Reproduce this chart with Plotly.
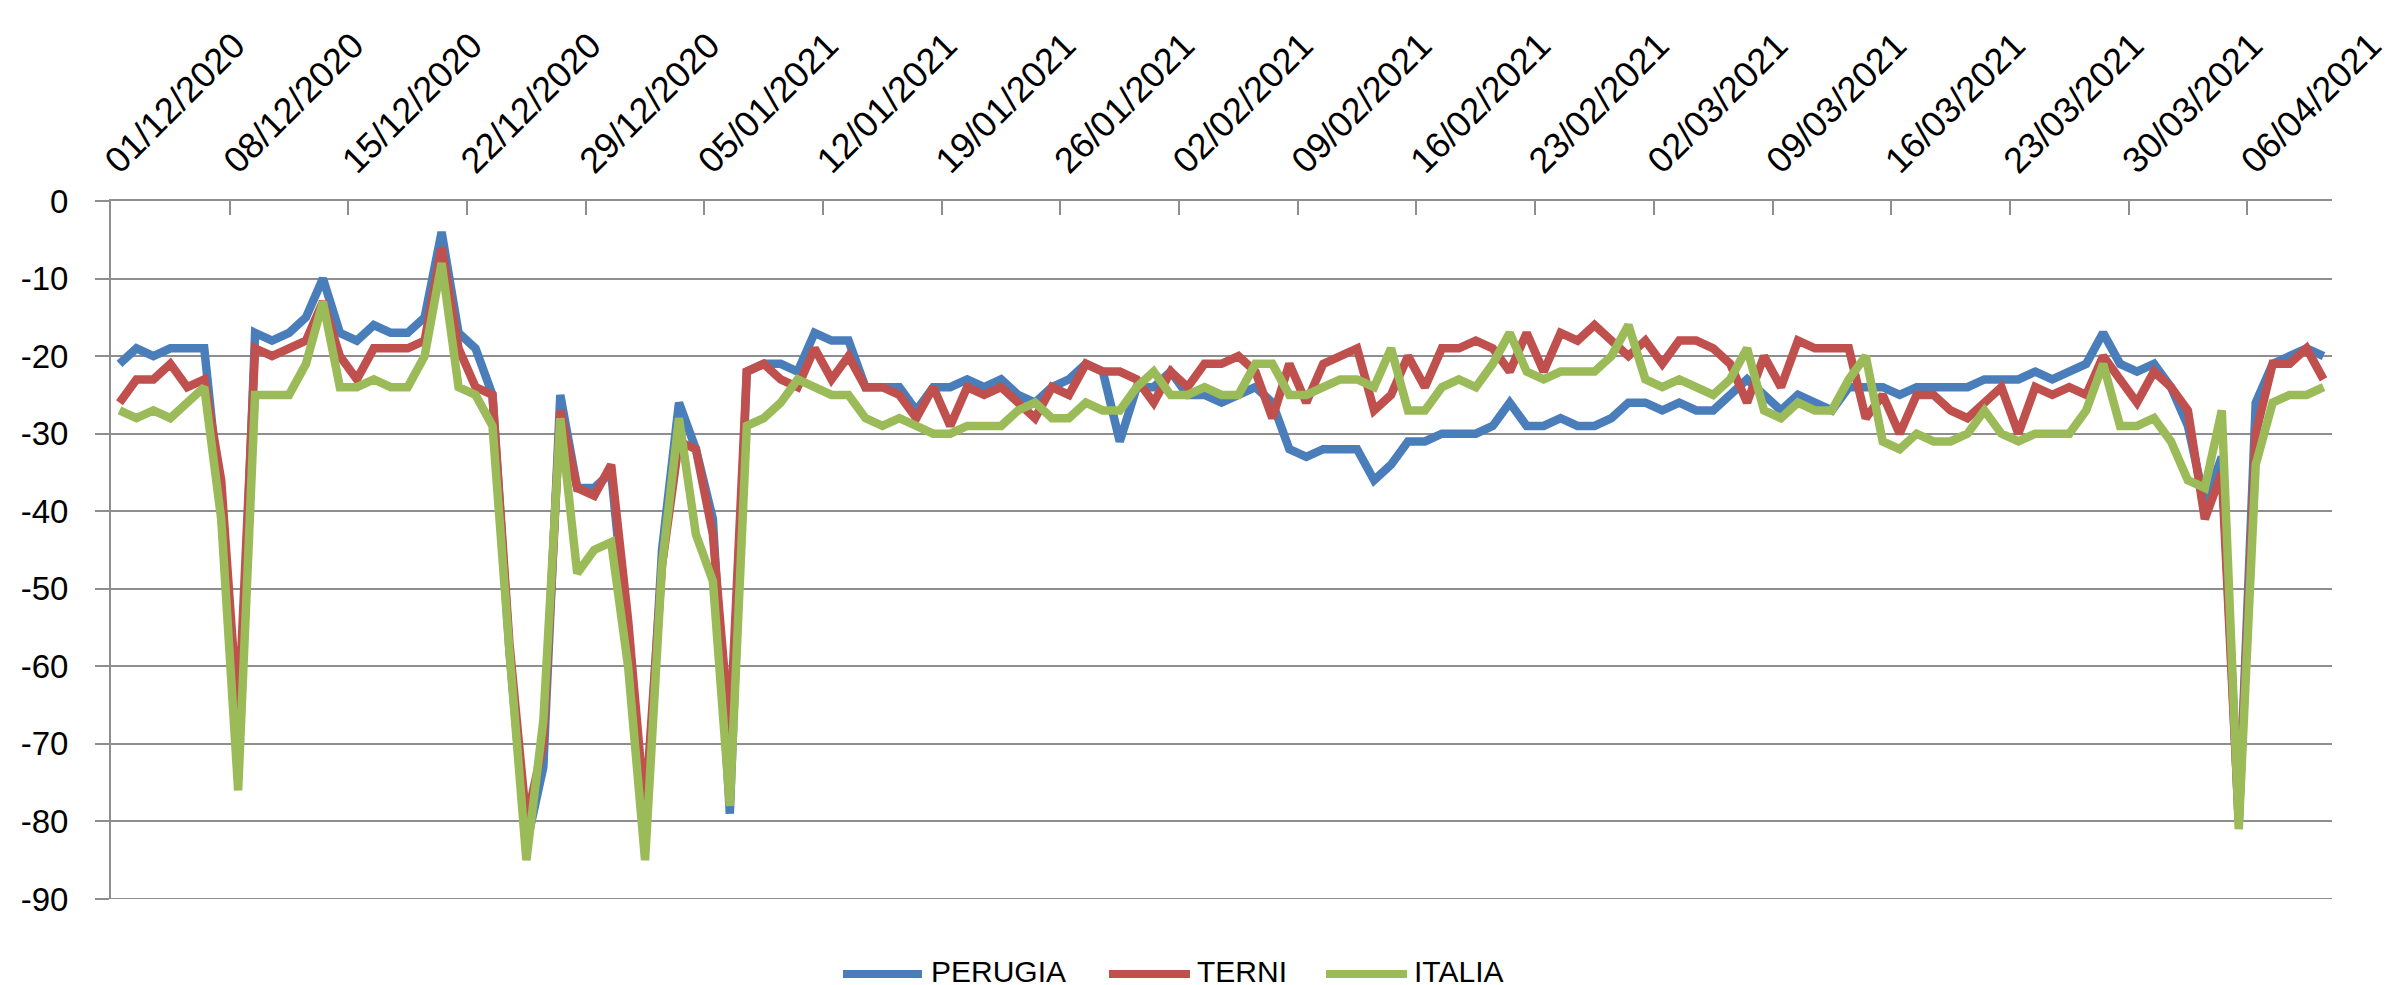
import pandas as pd
import plotly.graph_objects as go

# ---------------- data ----------------
START_DATE = "2020-12-01"
N_DAYS = 131
dates = pd.date_range(START_DATE, periods=N_DAYS, freq="D")

perugia = [-21, -19, -20, -19, -19, -19, -40, -73, -17, -18, -17, -15, -10, -17, -18, -16, -17, -17, -15, -4,
           -17, -19, -25, -58, -83, -73, -25, -37, -37, -35, -57, -83, -45, -26, -32, -41, -79, -22, -21, -21,
           -22, -17, -18, -18, -24, -24, -24, -27, -24, -24, -23, -24, -23, -25, -26, -24, -23, -21, -22, -31,
           -24, -24, -22, -25, -25, -26, -25, -24, -26, -32, -33, -32, -32, -32, -36, -34, -31, -31, -30, -30,
           -30, -29, -26, -29, -29, -28, -29, -29, -28, -26, -26, -27, -26, -27, -27, -25, -23, -25, -27, -25,
           -26, -27, -24, -24, -24, -25, -24, -24, -24, -24, -23, -23, -23, -22, -23, -22, -21, -17, -21, -22,
           -21, -24, -29, -39, -33, -80, -26, -21, -20, -19, -20]
terni = [-26, -23, -23, -21, -24, -23, -36, -67, -19, -20, -19, -18, -13, -20, -23, -19, -19, -19, -18, -6,
         -19, -24, -25, -57, -80, -70, -27, -37, -38, -34, -54, -79, -47, -31, -32, -43, -69, -22, -21, -23,
         -24, -19, -23, -20, -24, -24, -25, -28, -24, -29, -24, -25, -24, -26, -28, -24, -25, -21, -22, -22,
         -23, -26, -22, -24, -21, -21, -20, -22, -28, -21, -26, -21, -20, -19, -27, -25, -20, -24, -19, -19,
         -18, -19, -22, -17, -22, -17, -18, -16, -18, -20, -18, -21, -18, -18, -19, -21, -26, -20, -24, -18,
         -19, -19, -19, -28, -25, -30, -25, -25, -27, -28, -26, -24, -30, -24, -25, -24, -25, -20, -23, -26,
         -22, -24, -27, -41, -35, -80, -30, -21, -21, -19, -23]
italia = [-27, -28, -27, -28, -26, -24, -41, -76, -25, -25, -25, -21, -13, -24, -24, -23, -24, -24, -20, -8,
          -24, -25, -29, -58, -85, -67, -28, -48, -45, -44, -60, -85, -47, -28, -43, -49, -78, -29, -28, -26,
          -23, -24, -25, -25, -28, -29, -28, -29, -30, -30, -29, -29, -29, -27, -26, -28, -28, -26, -27, -27,
          -24, -22, -25, -25, -24, -25, -25, -21, -21, -25, -25, -24, -23, -23, -24, -19, -27, -27, -24, -23,
          -24, -21, -17, -22, -23, -22, -22, -22, -20, -16, -23, -24, -23, -24, -25, -23, -19, -27, -28, -26,
          -27, -27, -23, -20, -31, -32, -30, -31, -31, -30, -27, -30, -31, -30, -30, -30, -27, -21, -29, -29,
          -28, -31, -36, -37, -27, -81, -34, -26, -25, -25, -24]

SERIES_NAMES = ["PERUGIA", "TERNI", "ITALIA"]
TICK_LABELS = ["01/12/2020", "08/12/2020", "15/12/2020", "22/12/2020", "29/12/2020", "05/01/2021",
               "12/01/2021", "19/01/2021", "26/01/2021", "02/02/2021", "09/02/2021", "16/02/2021",
               "23/02/2021", "02/03/2021", "09/03/2021", "16/03/2021", "23/03/2021", "30/03/2021",
               "06/04/2021"]
Y_TICKS = [0, -10, -20, -30, -40, -50, -60, -70, -80, -90]

# ---------------- style ----------------
COLORS = ["#4A7EBB", "#C0504D", "#9BBB59"]
GRID = "#8E8E8E"
FONT = "Liberation Sans, Arial, sans-serif"
W, H = 2400, 985
L, R, T, B = 103, 76, 193, 94
PW, PH = W - L - R, H - T - B

half_day = pd.Timedelta(hours=12)
x_range = [dates[0] - half_day, dates[-1] + half_day]
tick_pos = [pd.to_datetime(s, format="%d/%m/%Y") - half_day for s in TICK_LABELS]

fig = go.Figure()
for name, vals, col in zip(SERIES_NAMES, [perugia, terni, italia], COLORS):
    fig.add_trace(go.Scatter(x=dates, y=vals, name=name, mode="lines",
                             line=dict(color=col, width=8.5), showlegend=False))

fig.update_layout(
    width=W, height=H,
    margin=dict(l=L, r=R, t=T, b=B, pad=0, autoexpand=False),
    paper_bgcolor="white", plot_bgcolor="white",
    font=dict(family=FONT, size=32, color="#000000"),
    xaxis=dict(
        side="top", range=x_range, tickmode="array", tickvals=tick_pos, ticktext=TICK_LABELS,
        tickangle=-45, showgrid=False, zeroline=False, automargin=False,
        showline=True, linecolor=GRID, linewidth=2,
        ticks="inside", ticklen=14, tickwidth=2, tickcolor=GRID,
        ticklabelstandoff=4, ticklabelshift=-4,
        tickfont=dict(family=FONT, size=36, color="#000000"),
    ),
    yaxis=dict(
        range=[-90, 0], tickmode="array", tickvals=Y_TICKS, ticktext=[str(v) for v in Y_TICKS],
        showgrid=True, gridcolor=GRID, gridwidth=2, zeroline=False, automargin=False,
        showline=True, linecolor=GRID, linewidth=2,
        ticks="outside", ticklen=14, tickwidth=2, tickcolor=GRID,
        ticklabelstandoff=20,
        tickfont=dict(family=FONT, size=33, color="#000000"),
    ),
)

# bottom gridline at -90 (edge)
fig.add_shape(type="line", xref="paper", yref="y", x0=0, x1=1, y0=-90, y1=-90,
              line=dict(color=GRID, width=2), layer="below")

# ---------------- legend (drawn below the plot) ----------------
def px_x(px):
    return (px - L) / PW

def px_y(py):
    return (H - B - py) / PH

LEG_Y = 964
LEG_ITEMS = [(835, 914, 921), (1101, 1182, 1187), (1318, 1399, 1404)]
for (lx0, lx1, tx), name, col in zip(LEG_ITEMS, SERIES_NAMES, COLORS):
    fig.add_shape(type="line", xref="paper", yref="paper",
                  x0=px_x(lx0), x1=px_x(lx1), y0=px_y(LEG_Y + 2), y1=px_y(LEG_Y + 2),
                  line=dict(color=col, width=8))
    fig.add_annotation(xref="paper", yref="paper", x=px_x(tx), y=px_y(LEG_Y),
                       text=name, showarrow=False, xanchor="left", yanchor="middle",
                       font=dict(family=FONT, size=30, color="#000000"))

fig.write_html("out.html")
